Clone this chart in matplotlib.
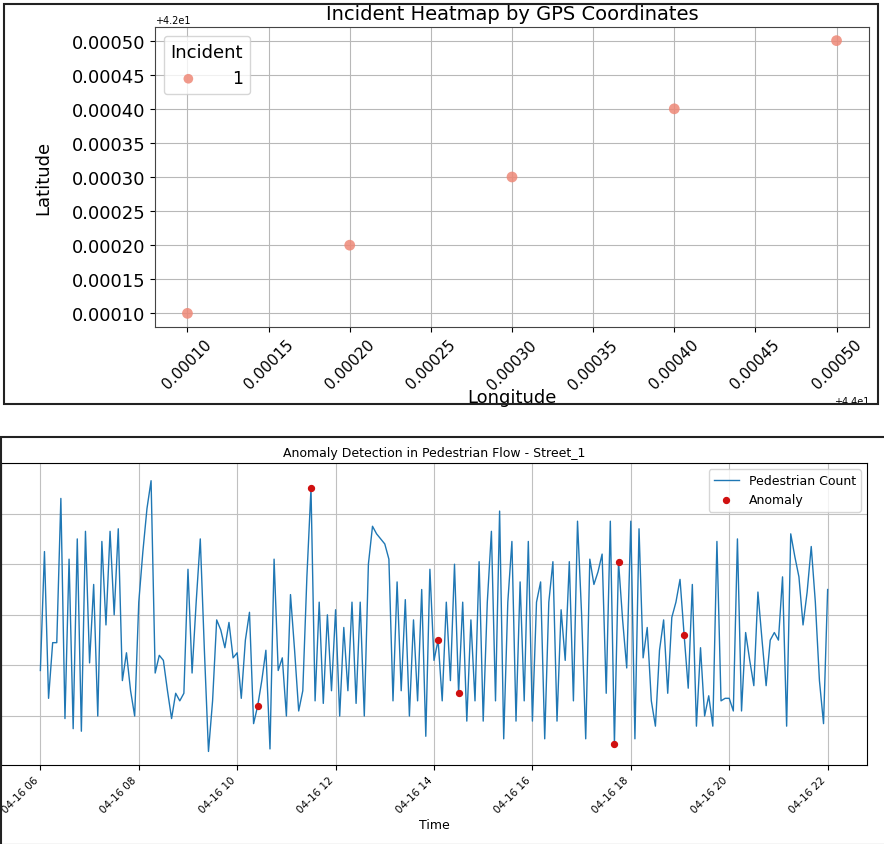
import numpy as np
import pandas as pd
import matplotlib
matplotlib.use("Agg")
import matplotlib.pyplot as plt
import matplotlib.dates as mdates
from matplotlib.ticker import MultipleLocator
from matplotlib.patches import Rectangle

# ---------------- data ----------------
latitudes = [42.0001, 42.0002, 42.0003, 42.0004, 42.0005]
longitudes = [44.0001, 44.0002, 44.0003, 44.0004, 44.0005]
incident = [1, 1, 1, 1, 1]

start_time = "2024-04-16 06:00"
pedestrian_counts = [
    38, 85, 27, 49, 49, 106, 19, 82, 15, 90,
    14, 93, 41, 72, 20, 89, 56, 93, 60, 94,
    34, 45, 30, 20, 65, 85, 102, 113, 37, 44,
    42, 30, 19, 29, 26, 29, 78, 37, 65, 90,
    46, 6, 26, 58, 54, 47, 57, 43, 45, 27,
    50, 61, 17, 24, 34, 46, 7, 82, 38, 43,
    20, 68, 46, 22, 30, 75, 110, 26, 65, 25,
    60, 30, 62, 20, 55, 30, 65, 25, 65, 20,
    80, 95, 92, 90, 88, 82, 26, 73, 30, 66,
    20, 58, 26, 70, 12, 78, 42, 50, 26, 65,
    34, 80, 29, 65, 18, 58, 26, 81, 18, 65,
    93, 26, 101, 11, 65, 89, 18, 73, 26, 89,
    18, 65, 73, 11, 65, 81, 18, 62, 42, 81,
    26, 97, 60, 11, 82, 72, 77, 84, 29, 97,
    9, 81, 58, 39, 97, 11, 94, 43, 55, 26,
    16, 46, 58, 29, 59, 65, 74, 52, 31, 72,
    16, 47, 20, 28, 16, 89, 26, 27, 27, 22,
    90, 22, 53, 42, 32, 69, 50, 32, 50, 53,
    50, 75, 16, 92, 83, 75, 56, 69, 87, 65,
    34, 17, 70,
]
anomaly_idx = [53, 66, 97, 102, 140, 141, 157]

times = pd.date_range(start_time, periods=len(pedestrian_counts), freq="5min")
counts = np.array(pedestrian_counts)

# ---------------- figure ----------------
W, H = 884, 845
fig = plt.figure(figsize=(W / 100, H / 100), dpi=100)

def fx(px):
    return px / W

def fy(py):
    return 1 - py / H

# panel borders
fig.patches.append(Rectangle((fx(4), fy(405)), fx(874), 400 / H, transform=fig.transFigure,
                             fill=False, edgecolor="#222222", lw=1.5))
fig.patches.append(Rectangle((fx(1), fy(846)), fx(890), 408 / H, transform=fig.transFigure,
                             fill=False, edgecolor="#222222", lw=1.5))

# ---- top: incident scatter ----
ax1 = fig.add_axes([fx(155), fy(328), fx(714), 300 / H])
ax1.scatter(longitudes, latitudes, s=60, color="#ee8877", alpha=0.85,
            edgecolors="none", label="1", zorder=3)
ax1.xaxis.set_major_locator(MultipleLocator(0.00005))
ax1.yaxis.set_major_locator(MultipleLocator(0.00005))
ax1.grid(True, color="#b8b8b8", lw=0.8)
ax1.set_axisbelow(True)
ax1.set_title("Incident Heatmap by GPS Coordinates", fontsize=14, pad=6)
ax1.set_xlabel("Longitude", fontsize=13, labelpad=-3)
ax1.set_ylabel("Latitude", fontsize=13, labelpad=14)
ax1.tick_params(axis="y", labelsize=13)
ax1.tick_params(axis="x", labelsize=11)
plt.setp(ax1.get_xticklabels(), rotation=45, ha="center")
ax1.xaxis.get_offset_text().set_fontsize(7)
ax1.yaxis.get_offset_text().set_fontsize(7)
ax1.legend(title="Incident", loc="upper left", fontsize=12.5, title_fontsize=13,
           markerscale=0.9, borderpad=0.4, handletextpad=1.5)
for sp in ax1.spines.values():
    sp.set_color("#444444")

# ---- bottom: pedestrian flow ----
ax2 = fig.add_axes([fx(1), fy(766), fx(866), 302 / H])
ax2.plot(times, counts, color="#1f77b4", lw=1.0, label="Pedestrian Count")
ax2.scatter(times[anomaly_idx], counts[anomaly_idx], color="#d01010", s=18,
            label="Anomaly", zorder=3)
ax2.set_yticks([20, 40, 60, 80, 100, 120])
ax2.tick_params(axis="y", labelleft=False)
ax2.grid(True, color="#c0c0c0", lw=0.8)
ax2.set_title("Anomaly Detection in Pedestrian Flow - Street_1", fontsize=9, pad=5)
ax2.set_xlabel("Time", fontsize=9, labelpad=2)
ax2.xaxis.set_major_locator(mdates.HourLocator(byhour=range(0, 24, 2)))
ax2.xaxis.set_major_formatter(mdates.DateFormatter("%m-%d %H"))
ax2.tick_params(axis="x", labelsize=7.5)
plt.setp(ax2.get_xticklabels(), rotation=45, ha="right")
ax2.legend(loc="upper right", fontsize=9)

fig.savefig("out.png", dpi=100)
